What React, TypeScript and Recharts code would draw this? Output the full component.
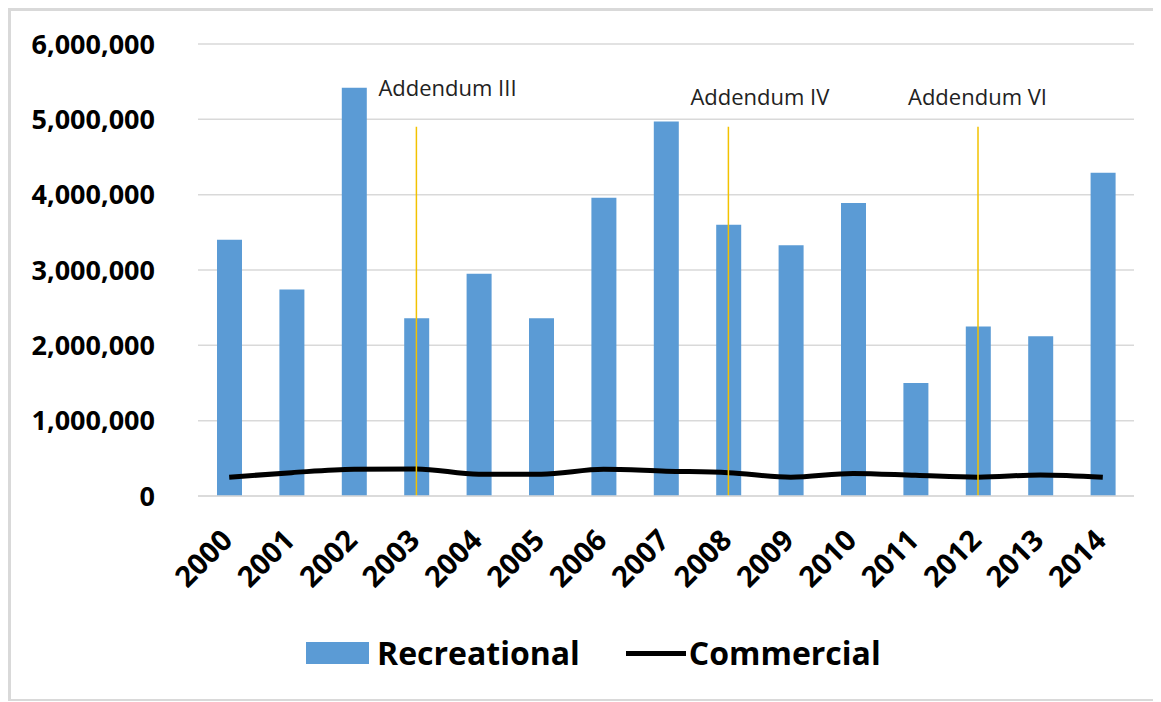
import React from 'react';
import { ComposedChart, Bar, Line, XAxis, YAxis, CartesianGrid, Legend, ReferenceLine } from 'recharts';

// values
const years = ['2000', '2001', '2002', '2003', '2004', '2005', '2006', '2007', '2008', '2009', '2010', '2011', '2012', '2013', '2014'];
const recreational = [3400000, 2740000, 5420000, 2360000, 2950000, 2360000, 3960000, 4970000, 3600000, 3330000, 3890000, 1500000, 2250000, 2120000, 4290000];
const commercial = [250000, 310000, 355000, 360000, 290000, 290000, 355000, 330000, 310000, 250000, 300000, 275000, 250000, 280000, 250000];
const yTicks = [0, 1000000, 2000000, 3000000, 4000000, 5000000, 6000000];

const addendumYears = ['2003', '2008', '2012'];
const addendumNames = ['Addendum III', 'Addendum IV', 'Addendum VI'];
const addendumTop = 4900000;

// where each addendum caption sits relative to the top of its line
const captionOffsets = [
  { dx: -38, dy: -31 },
  { dx: -38, dy: -22 },
  { dx: -70, dy: -22 },
];

const FONT = "'Open Sans', sans-serif";
const BLUE = '#5B9BD5';

const data = years.map((year, i) => ({
  year,
  Recreational: recreational[i],
  Commercial: commercial[i],
}));

const YearTick = (props: any) => {
  const { x, y, payload } = props;
  const tx = x + 5;
  const ty = y + 46;
  return (
    <text
      x={tx}
      y={ty}
      textAnchor="end"
      transform={`rotate(-45, ${tx}, ${ty})`}
      fontFamily={FONT}
      fontWeight={700}
      fontSize={29}
      fill="#000"
    >
      {payload.value}
    </text>
  );
};

const LegendContent = () => (
  <div
    style={{
      display: 'flex',
      alignItems: 'center',
      fontFamily: FONT,
      fontWeight: 700,
      fontSize: 32,
      lineHeight: 1,
      color: '#000',
      whiteSpace: 'nowrap',
    }}
  >
    <span style={{ display: 'inline-block', width: 63, height: 22, background: BLUE, marginRight: 8 }} />
    <span>Recreational</span>
    <span style={{ display: 'inline-block', width: 60, height: 5, background: '#000', marginLeft: 46, marginRight: 3 }} />
    <span>Commercial</span>
  </div>
);

const App: React.FC = () => {
  return (
    <div
      style={{
        width: 1150,
        height: 688,
        borderLeft: '3px solid #d9d9d9',
        borderTop: '3px solid #d9d9d9',
        borderBottom: '2px solid #d9d9d9',
        background: '#fff',
      }}
    >
      <ComposedChart
        width={1150}
        height={688}
        data={data}
        margin={{ top: 33, right: 27, left: 0, bottom: 103 }}
        barSize={25}
      >
        <CartesianGrid vertical={false} stroke="#d9d9d9" strokeWidth={1.5} />
        <XAxis
          dataKey="year"
          height={100}
          interval={0}
          axisLine={{ stroke: '#d9d9d9', strokeWidth: 1.5 }}
          tickLine={false}
          tickSize={0}
          tickMargin={0}
          tick={<YearTick />}
        />
        <YAxis
          width={187}
          domain={[0, 6000000]}
          ticks={yTicks}
          axisLine={false}
          tickLine={false}
          tickSize={0}
          tickMargin={43}
          tickFormatter={(v: number) => v.toLocaleString('en-US')}
          tick={{ fontFamily: FONT, fontWeight: 700, fontSize: 27, fill: '#000' }}
        />
        <Bar dataKey="Recreational" fill={BLUE} isAnimationActive={false} />
        <Line
          type="monotone"
          dataKey="Commercial"
          stroke="#000"
          strokeWidth={5}
          dot={false}
          activeDot={false}
          isAnimationActive={false}
        />
        {addendumYears.map((yr, i) => (
          <ReferenceLine
            key={yr}
            segment={[
              { x: yr, y: 0 },
              { x: yr, y: addendumTop },
            ]}
            stroke="#F2C200"
            strokeWidth={1.5}
            label={(p: any) => (
              <text
                x={p.viewBox.x + captionOffsets[i].dx}
                y={p.viewBox.y + captionOffsets[i].dy}
                fontFamily={FONT}
                fontSize={22}
                fill="#222"
              >
                {addendumNames[i]}
              </text>
            )}
          />
        ))}
        <Legend
          layout="horizontal"
          verticalAlign="middle"
          align="center"
          content={<LegendContent />}
          wrapperStyle={{ top: 626, left: 295, width: 'auto', height: 'auto' }}
        />
      </ComposedChart>
    </div>
  );
};

export default App;
